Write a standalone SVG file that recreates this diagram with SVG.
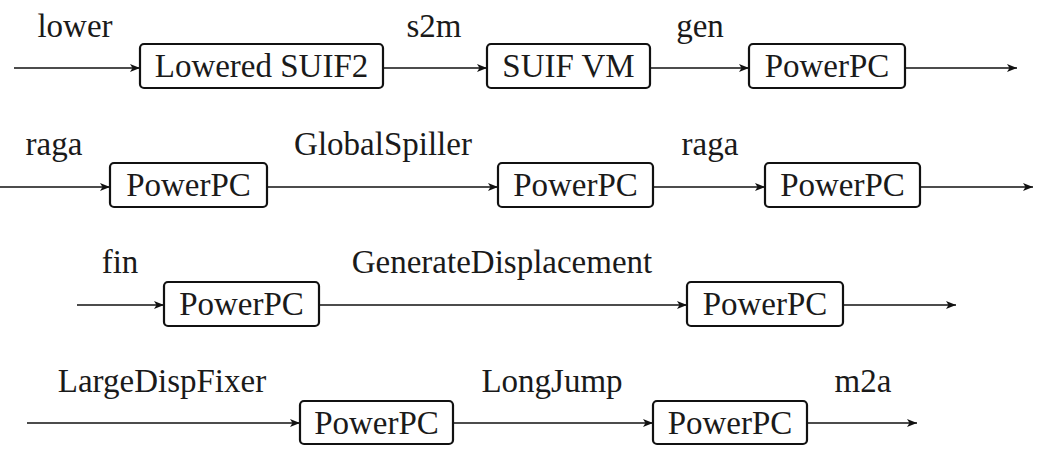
<svg xmlns="http://www.w3.org/2000/svg" width="1041" height="461" viewBox="0 0 1041 461">
<style>
.box{fill:#fff;stroke:#111;stroke-width:2.2}
.t{font-size:33px;fill:#1a1a1a;text-anchor:middle}
.c{stroke:#111;stroke-width:1.6;fill:none;marker-end:url(#ah)}
</style>
<defs>
<marker id="ah" viewBox="0 0 10 8" refX="10" refY="4" markerWidth="10" markerHeight="8" markerUnits="userSpaceOnUse" orient="auto">
<path d="M0,0 L10,4 L0,8 L2.5,4 Z" fill="#111"/>
</marker>
</defs>
<rect width="1041" height="461" fill="#fff"/>
<g id="connectors">
<path class="c" d="M14,68 H140"/>
<path class="c" d="M383,68 H487"/>
<path class="c" d="M650,68 H749"/>
<path class="c" d="M905,68 H1017"/>
<path class="c" d="M0,187 H110"/>
<path class="c" d="M267,187 H498"/>
<path class="c" d="M653,187 H765"/>
<path class="c" d="M920,187 H1033"/>
<path class="c" d="M77,305 H164"/>
<path class="c" d="M319,305 H687"/>
<path class="c" d="M843,305 H956"/>
<path class="c" d="M27,423 H300"/>
<path class="c" d="M453,423 H653"/>
<path class="c" d="M807,423 H917"/>
</g>
<g font-family="Liberation Serif, serif">
<g id="labels">
<text class="t" x="75" y="37">lower</text>
<text class="t" x="434" y="37">s2m</text>
<text class="t" x="700" y="37">gen</text>
<text class="t" x="54" y="155">raga</text>
<text class="t" x="383" y="155">GlobalSpiller</text>
<text class="t" x="710" y="155">raga</text>
<text class="t" x="120" y="273">fin</text>
<text class="t" x="502" y="273">GenerateDisplacement</text>
<text class="t" x="162" y="392">LargeDispFixer</text>
<text class="t" x="552" y="392">LongJump</text>
<text class="t" x="863" y="392">m2a</text>
</g>
<g id="n1"><rect class="box" x="140" y="44" width="243" height="44" rx="4"/><text class="t" x="261.5" y="77">Lowered SUIF2</text></g>
<g id="n2"><rect class="box" x="487" y="44" width="163" height="44" rx="4"/><text class="t" x="568.5" y="77">SUIF VM</text></g>
<g id="n3"><rect class="box" x="749" y="44" width="156" height="44" rx="4"/><text class="t" x="827" y="77">PowerPC</text></g>
<g id="n4"><rect class="box" x="110" y="163" width="157" height="44" rx="4"/><text class="t" x="188.5" y="196">PowerPC</text></g>
<g id="n5"><rect class="box" x="498" y="163" width="155" height="44" rx="4"/><text class="t" x="575.5" y="196">PowerPC</text></g>
<g id="n6"><rect class="box" x="765" y="163" width="155" height="44" rx="4"/><text class="t" x="842.5" y="196">PowerPC</text></g>
<g id="n7"><rect class="box" x="164" y="282" width="155" height="44" rx="4"/><text class="t" x="241.5" y="315">PowerPC</text></g>
<g id="n8"><rect class="box" x="687" y="282" width="156" height="44" rx="4"/><text class="t" x="765" y="315">PowerPC</text></g>
<g id="n9"><rect class="box" x="300" y="401" width="153" height="43" rx="4"/><text class="t" x="376.5" y="434">PowerPC</text></g>
<g id="n10"><rect class="box" x="653" y="401" width="154" height="43" rx="4"/><text class="t" x="730" y="434">PowerPC</text></g>
</g>
</svg>
